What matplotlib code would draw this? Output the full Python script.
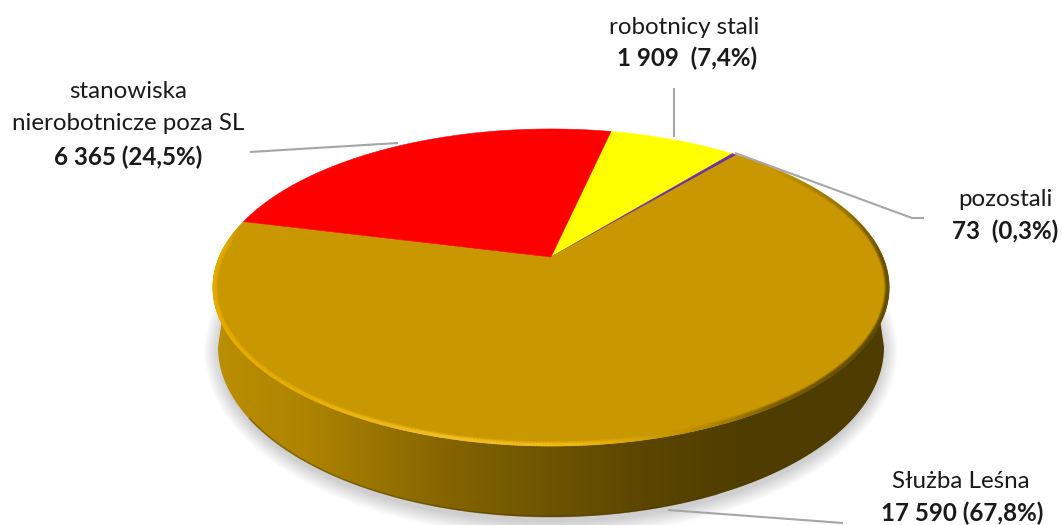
import numpy as np
import matplotlib
matplotlib.use('Agg')
import matplotlib.pyplot as plt
from matplotlib.patches import Polygon, Ellipse
from matplotlib.collections import LineCollection
from matplotlib.colors import LinearSegmentedColormap, to_rgb

plt.rcParams['font.family'] = ['Lato', 'DejaVu Sans']

# dane
names = ['robotnicy stali', 'pozostali', 'Służba Leśna', 'stanowiska', 'nierobotnicze poza SL']
values = [1909, 73, 17590, 6365]
value_labels = ['1 909  (7,4%)', '73  (0,3%)', '17 590 (67,8%)', '6 365 (24,5%)']
colors = ['#FFFF00', '#7030A0', '#C99700', '#FF0000']

# geometria w pikselach
apex_x, apex_y = 551, 257
R, a, k = 331.7, 152.6, 0.192
start_angle = 77.6


def project(x, y):
    # rzut perspektywiczny tarczy na obraz
    w = 1 + k * y
    return apex_x + R * x / w, apex_y - a * y / w


def circle(t1, t2, n=200, r=1.0):
    t = np.radians(np.linspace(t1, t2, n))
    return project(r * np.cos(t), r * np.sin(t))


fig = plt.figure(figsize=(10.62, 5.25), dpi=100)
ax = fig.add_axes([0, 0, 1, 1])
ax.axis('off')

# miekki cien pod spodem
for i in range(16):
    grow = 16 - i
    ax.add_patch(Ellipse((551, 351), 2 * (331 + grow), 2 * (170 + grow), fc='black', ec='none',
                         alpha=0.012, zorder=1))

# bok tarczy
low_cx, low_cy, low_rx, low_ry = 551, 347, 333, 170
top_x, top_y = circle(170, 370, 200)
tl = np.radians(np.linspace(360, 180, 200))
low_x = low_cx + low_rx * np.cos(tl)
low_y = low_cy - low_ry * np.sin(tl)
verts = np.vstack([np.column_stack([top_x, top_y]), np.column_stack([low_x, low_y])])
side = Polygon(verts, closed=True, fc='none', ec='none', zorder=2)
ax.add_patch(side)
side_cmap = LinearSegmentedColormap.from_list('side', [
    (0.00, '#BC8F00'), (0.15, '#AC8200'), (0.35, '#836400'), (0.50, '#6E5400'),
    (0.65, '#5A4500'), (0.80, '#4E3C00'), (1.00, '#4E3C00')])
im = ax.imshow(np.linspace(0, 1, 512).reshape(1, -1), cmap=side_cmap, extent=(213, 889, 525, 280),
               aspect='auto', zorder=2)
im.set_clip_path(side)
ax.set_xlim(0, 1062)
ax.set_ylim(525, 0)

# ciemniejsza dolna krawedz
be = np.radians(np.linspace(205, 300, 100))
ax.plot(low_cx + (low_rx - 0.5) * np.cos(be), low_cy - (low_ry - 0.5) * np.sin(be),
        color='#4A3800', lw=1.2, alpha=0.45, zorder=2)

# wycinki - katy z wartosci
angle = start_angle
total = sum(values)
for val, col in zip(values, colors):
    end = angle - val / total * 360
    x, y = circle(angle, end, 300)
    ax.add_patch(Polygon(np.column_stack([np.r_[apex_x, x], np.r_[apex_y, y]]), closed=True,
                         fc=col, ec=col, lw=0.4, zorder=3))
    angle = end

# faza na krawedzi: warstwy o stalej szerokosci w pikselach
rim_t = [166, 176, 230, 255, 275, 290, 305, 330, 360, 380, 400]
rim_c = ['#C99700', '#E3AA00', '#E8AE00', '#F4C028', '#EDB60F', '#BF9000', '#7A5D00',
         '#5E4800', '#6B5200', '#8A6A00', '#8A6A00']
rim_a = [0, 1, 1, 1, 1, 1, 1, 1, 0.9, 0.45, 0]
rim_rgb = np.array([to_rgb(c) for c in rim_c])
mid_x, mid_y = 551, 287.5
layers = [(4.0, 0.2), (3.0, 0.5), (2.0, 0.8), (1.0, 1.0), (0.3, 1.0)]
for d, cover in layers:
    t = np.linspace(166, 400, 500)
    ex, ey = circle(166, 400, 500)
    ex = mid_x + (ex - mid_x) * (1 - d / 338)
    ey = mid_y + (ey - mid_y) * (1 - d / 158)
    pts = np.column_stack([ex, ey]).reshape(-1, 1, 2)
    segs = np.concatenate([pts[:-1], pts[1:]], axis=1)
    tm = (t[:-1] + t[1:]) / 2
    rgba = np.column_stack([np.interp(tm, rim_t, rim_rgb[:, 0]), np.interp(tm, rim_t, rim_rgb[:, 1]),
                            np.interp(tm, rim_t, rim_rgb[:, 2]), np.interp(tm, rim_t, rim_a) * cover])
    ax.add_collection(LineCollection(segs, colors=rgba, lw=1.1, zorder=4, capstyle='round'))

# linie odniesienia
leader = dict(color='#A6A6A6', lw=1.5, zorder=5, solid_capstyle='butt')
ax.plot([674, 674], [88, 137], **leader)
ax.plot([250, 398], [152, 143], **leader)
ax.plot([735, 912, 924], [153, 218, 218], **leader)
ax.plot([668, 843], [510, 523], **leader)

# opisy
fs = 17.4
txt = dict(ha='center', va='center', fontsize=fs, color='#1A1A1A', zorder=6)
ax.text(684, 27, names[0], **txt)
ax.text(687, 58, value_labels[0], fontweight='bold', **txt)
ax.text(128, 91, names[3], **txt)
ax.text(128, 123, names[4], **txt)
ax.text(128, 157, value_labels[3], fontweight='bold', **txt)
ax.text(1005, 199, names[1], **txt)
ax.text(1005, 231, value_labels[1], fontweight='bold', **txt)
ax.text(961, 482, names[2], **txt)
ax.text(962, 513, value_labels[2], fontweight='bold', **txt)

fig.savefig('out.png', dpi=100)
